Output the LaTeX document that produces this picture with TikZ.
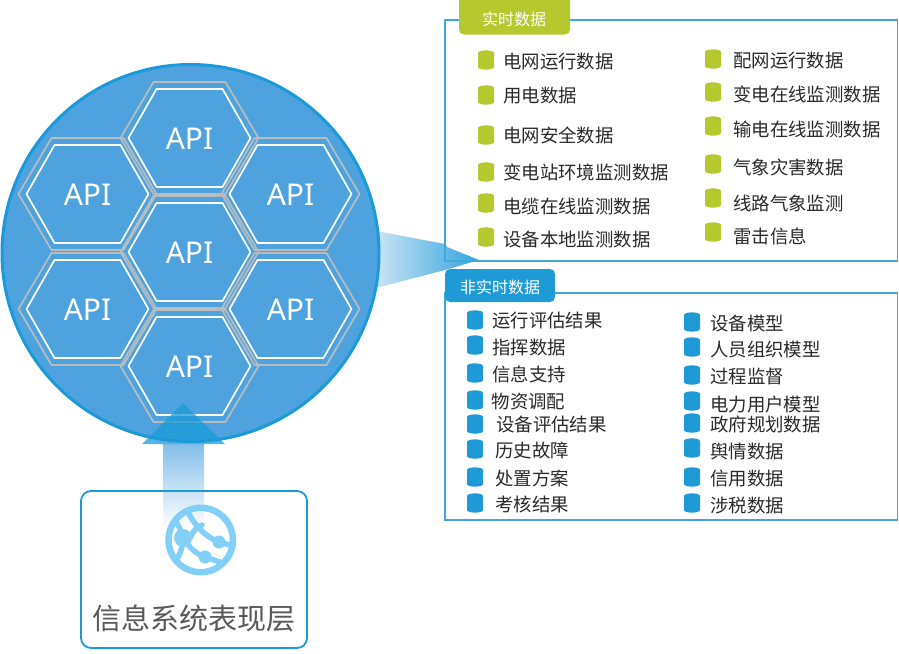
\documentclass[tikz,border=0pt]{standalone}
\usepackage{fontspec}
\setmainfont{Noto Sans CJK SC}
\newfontfamily\apifont{Noto Sans}
\usetikzlibrary{calc}
\definecolor{discfill}{HTML}{4EA3DF}
\definecolor{discedge}{HTML}{1B9AD9}
\definecolor{hexgray}{HTML}{B9BCBE}
\definecolor{panelblue}{HTML}{3FA9DC}
\definecolor{tabgreen}{HTML}{B5C92F}
\definecolor{tabblue}{HTML}{1E9BD7}
\definecolor{globeblue}{HTML}{82D0F8}
\definecolor{inktext}{HTML}{2A2A2A}
\tikzset{
  x=1pt,y=-1pt,
  panelbox/.style={draw=panelblue,line width=1.6pt},
  tabbox/.style={rounded corners=5pt},
  tablabel/.style={text=white,font=\fontsize{16}{18}\selectfont,inner sep=0pt},
  itemlabel/.style={text=inktext,font=\fontsize{18.4}{20}\selectfont,anchor=west,inner sep=0pt},
  apilabel/.style={text=white,font=\apifont\fontsize{30}{32}\selectfont,inner sep=0pt},
  hexouter/.style={draw=hexgray,line width=1.7pt,line join=round},
  hexinner/.style={draw=white,line width=1.7pt,line join=round},
  globeline/.style={draw=globeblue,line width=5.5pt,line cap=round},
}
% name, cx, cy
\newcommand{\apihex}[3]{%
  \draw[hexouter] ({#2-69},#3) -- ({#2-36},{#3-56}) -- ({#2+36},{#3-56}) -- ({#2+69},#3) -- ({#2+36},{#3+56}) -- ({#2-36},{#3+56}) -- cycle;
  \draw[hexinner] ({#2-61},#3) -- ({#2-33},{#3-49}) -- ({#2+33},{#3-49}) -- ({#2+61},#3) -- ({#2+33},{#3+49}) -- ({#2-33},{#3+49}) -- cycle;
  \node[apilabel] (#1) at (#2,{#3+1}) {API};
}
% colour, cx, cy
\newcommand{\drum}[3]{%
  \fill[#1] ({#2-8},{#3-7}) .. controls ({#2-8},{#3-10.5}) and ({#2+8},{#3-10.5}) .. ({#2+8},{#3-7})
     -- ({#2+8},{#3+7}) .. controls ({#2+8},{#3+10.5}) and ({#2-8},{#3+10.5}) .. ({#2-8},{#3+7}) -- cycle;
}
% name, colour, bx, by, tx, ty, text
\newcommand{\dataitem}[7]{%
  \drum{#2}{#3}{#4}
  \node[itemlabel] (#1) at (#5,{#6+0.7}) {#7};
}
\begin{document}
\begin{tikzpicture}
\useasboundingbox (0,0) rectangle (899,653);
\fill[white] (0,0) rectangle (899,653);
% funnel from the disc to the panels
\shade[left color=white!70!discfill,right color=discedge!90!white]
  (376,231) -- (445,244) -- (447,247) -- (479,260) -- (445,270) -- (376,288) -- cycle;
% disc
\fill[discfill] (190.5,253) circle[radius=189];
\draw[discedge,line width=3pt] (190.5,253) circle[radius=188.5];
% hexagons
\apihex{apitop}{189.5}{138}
\apihex{apimid}{189.5}{252}
\apihex{apibot}{189.5}{366}
\apihex{apiul}{87.5}{194}
\apihex{apill}{87.5}{309}
\apihex{apiur}{290.5}{194}
\apihex{apilr}{290.5}{309}
% up arrow
\shade[top color=discfill!70!white,bottom color=white] (163,444) rectangle (204,528);
\fill[discedge,opacity=.75] (183,403) -- (225,444) -- (142,444) -- cycle;
% presentation box
\draw[discedge,line width=1.8pt,rounded corners=10pt] (81,491) rectangle (307,648);
\draw[globeline,line width=6.5pt] (200.7,540) circle[radius=32.2];
\draw[globeline] (175,520) .. controls (181,530) and (184,537) .. (183,538) .. controls (183,547) and (180,554) .. (176,561);
\draw[globeline] (188,512) .. controls (196,528) and (208,538) .. (219,542) -- (233,546);
\draw[globeline] (183,538) .. controls (190,548) and (196,554) .. (205,557) -- (223,563);
\draw[globeline] (190,538) .. controls (192,532) and (197,527) .. (202,525);
\fill[globeblue] (183,538) circle[radius=9];
\fill[globeblue] (219,542) circle[radius=6.5];
\fill[globeblue] (205,557) circle[radius=6.5];
\node[text=black!65,font=\fontsize{29}{31}\selectfont,inner sep=0pt] (present) at (194,618) {信息系统表现层};
% panels
\draw[panelblue,line width=1.6pt] (445,20) rectangle (897.5,261);
\draw[panelblue,line width=1.6pt] (445,293) rectangle (897.5,520);
% tabs
\fill[tabgreen,tabbox] (459,-6) rectangle (570,34.5);
\node[tablabel] (realtime) at (514,19) {实时数据};
\fill[tabblue,tabbox] (445,269) rectangle (555,302);
\node[tablabel] (nonreal) at (500,287) {非实时数据};
% realtime items
\dataitem{ga}{tabgreen}{486}{60}{503}{61}{电网运行数据}
\dataitem{gb}{tabgreen}{486}{95}{503}{95}{用电数据}
\dataitem{gc}{tabgreen}{486}{135}{503}{135}{电网安全数据}
\dataitem{gd}{tabgreen}{486}{172}{503}{172}{变电站环境监测数据}
\dataitem{ge}{tabgreen}{486}{203}{503}{206}{电缆在线监测数据}
\dataitem{gf}{tabgreen}{486}{237}{503}{239}{设备本地监测数据}
\dataitem{gg}{tabgreen}{713}{59}{733}{60}{配网运行数据}
\dataitem{gh}{tabgreen}{713}{92}{733}{94}{变电在线监测数据}
\dataitem{gi}{tabgreen}{713}{126}{733}{129}{输电在线监测数据}
\dataitem{gj}{tabgreen}{713}{164}{733}{167}{气象灾害数据}
\dataitem{gk}{tabgreen}{713}{198}{733}{203}{线路气象监测}
\dataitem{gl}{tabgreen}{713}{232}{733}{236}{雷击信息}
% non-realtime items
\dataitem{ba}{tabblue}{475}{320}{492}{320}{运行评估结果}
\dataitem{bb}{tabblue}{475}{345}{492}{347}{指挥数据}
\dataitem{bc}{tabblue}{475}{373}{492}{374}{信息支持}
\dataitem{bd}{tabblue}{475}{400}{491.5}{401}{物资调配}
\dataitem{be}{tabblue}{475}{424}{496}{424}{设备评估结果}
\dataitem{bf}{tabblue}{475}{449}{495}{450}{历史故障}
\dataitem{bg}{tabblue}{475}{477}{495}{478}{处置方案}
\dataitem{bh}{tabblue}{475}{503}{495}{504}{考核结果}
\dataitem{bi}{tabblue}{692}{322}{710}{323}{设备模型}
\dataitem{bj}{tabblue}{692}{347}{710}{349}{人员组织模型}
\dataitem{bk}{tabblue}{692}{375}{710}{376}{过程监督}
\dataitem{bl}{tabblue}{692}{401}{710}{404}{电力用户模型}
\dataitem{bm}{tabblue}{692}{423}{710}{424}{政府规划数据}
\dataitem{bn}{tabblue}{692}{448}{710}{451}{舆情数据}
\dataitem{bo}{tabblue}{692}{477}{710}{478}{信用数据}
\dataitem{bp}{tabblue}{692}{503}{710}{505}{涉税数据}
\end{tikzpicture}
\end{document}
